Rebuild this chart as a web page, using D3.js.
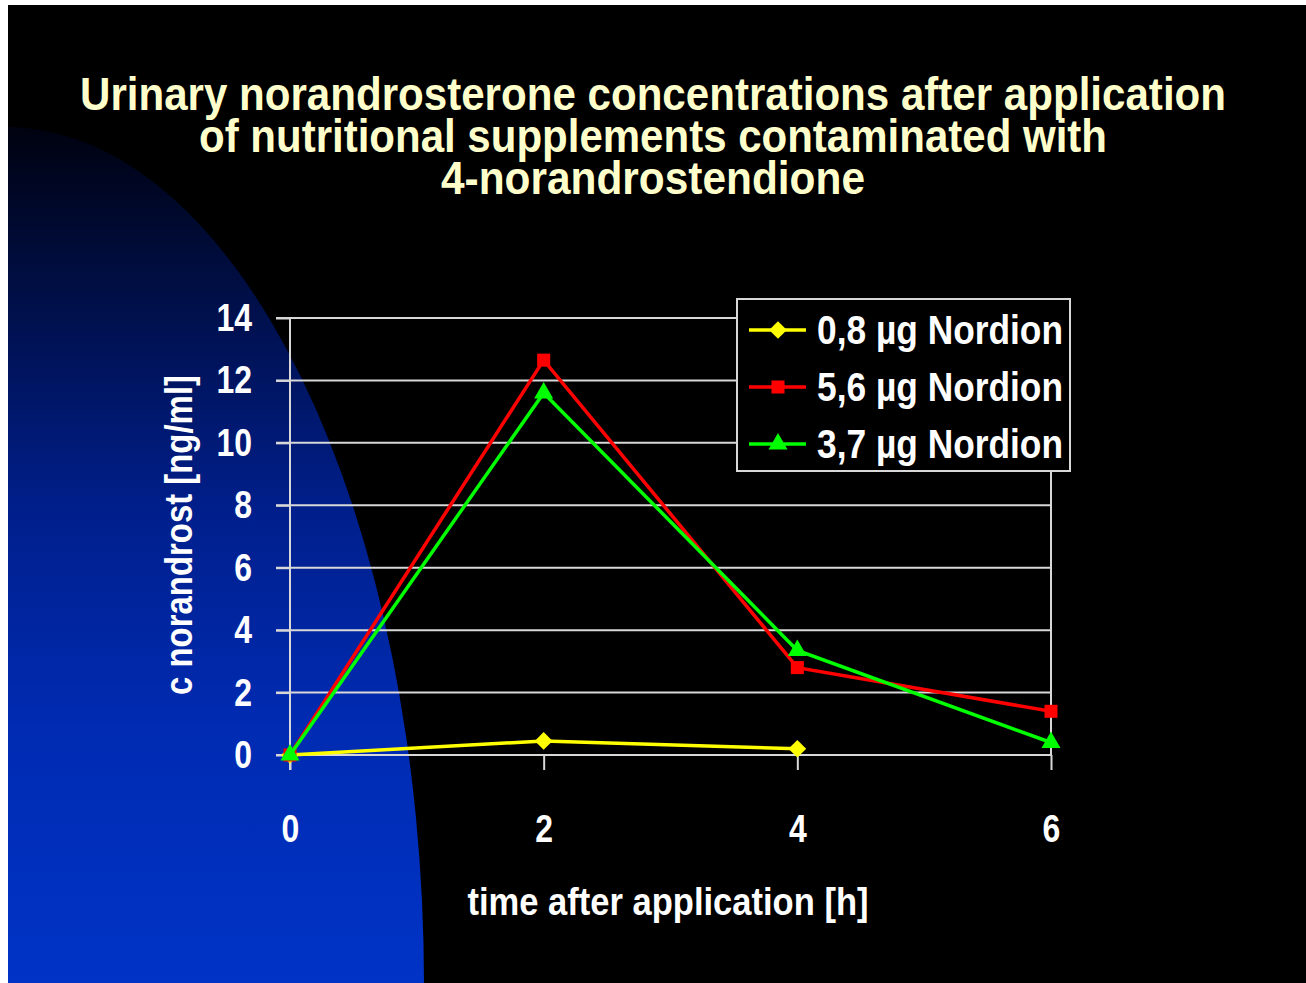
<!DOCTYPE html>
<html>
<head>
<meta charset="utf-8">
<script src="https://cdn.jsdelivr.net/npm/d3@7"></script>
<style>
  body { margin: 0; background: #fff; }
  svg { display: block; }
  text { font-family: "Liberation Sans Narrow", "Arial Narrow", "Liberation Sans", Arial, sans-serif; font-weight: bold; }
</style>
</head>
<body>
<div id="chart"></div>
<script>
// Data
const hours = [0, 2, 4, 6];
const dose08 = [0.0, 0.45, 0.2];        // 0,8 µg Nordion (no value at 6 h)
const dose56 = [0.0, 12.65, 2.8, 1.4];  // 5,6 µg Nordion
const dose37 = [0.0, 11.6, 3.35, 0.4];  // 3,7 µg Nordion
const yTicks = [0, 2, 4, 6, 8, 10, 12, 14];
const titleLines = [
  "Urinary norandrosterone concentrations after application",
  "of nutritional supplements contaminated with",
  "4-norandrostendione"
];

const series = [
  { name: "0,8 µg Nordion", values: dose08, color: "#ffff00", marker: "diamond" },
  { name: "5,6 µg Nordion", values: dose56, color: "#ff0000", marker: "square" },
  { name: "3,7 µg Nordion", values: dose37, color: "#00ff00", marker: "triangle" }
];

const W = 1306, H = 983;
const narrow = 0.82;   // the slide font is a condensed bold sans
const svg = d3.select("#chart").append("svg")
  .attr("width", W)
  .attr("height", H);

// slide background: white edge, black slide, blue quarter ellipse
svg.append("rect").attr("width", W).attr("height", H).attr("fill", "#fff");
svg.append("rect").attr("x", 8).attr("y", 5).attr("width", W - 8).attr("height", H - 5).attr("fill", "#000");

const defs = svg.append("defs");
const grad = defs.append("linearGradient").attr("id", "blue")
  .attr("gradientUnits", "userSpaceOnUse")
  .attr("x1", 0).attr("y1", 127).attr("x2", 0).attr("y2", 983);
grad.append("stop").attr("offset", "0%").attr("stop-color", "#000210");
grad.append("stop").attr("offset", "20%").attr("stop-color", "#000f48");
grad.append("stop").attr("offset", "45%").attr("stop-color", "#001f8c");
grad.append("stop").attr("offset", "70%").attr("stop-color", "#002bb2");
grad.append("stop").attr("offset", "100%").attr("stop-color", "#0033c6");
defs.append("clipPath").attr("id", "slide")
  .append("rect").attr("x", 8).attr("y", 5).attr("width", W - 8).attr("height", H - 5);

svg.append("ellipse")
  .attr("clip-path", "url(#slide)")
  .attr("cx", 6).attr("cy", 985)
  .attr("rx", 418).attr("ry", 858)
  .attr("fill", "url(#blue)");

// title
svg.append("g").selectAll("text")
  .data(titleLines)
  .enter()
  .append("text")
  .attr("x", 653)
  .attr("y", (d, i) => 110 + i * 42)
  .attr("text-anchor", "middle")
  .attr("fill", "#ffffcc")
  .style("font-size", "46px")
  .attr("textLength", (d, i) => [1146, 908, 424][i])
  .attr("lengthAdjust", "spacingAndGlyphs")
  .text(d => d);

// scales
const x = d3.scaleLinear().domain([0, 6]).range([290, 1051]);
const y = d3.scaleLinear().domain([0, 14]).range([755, 318]);
const gridColor = "#d8d8d8";

// grid lines
svg.append("g").selectAll("line")
  .data(yTicks)
  .enter()
  .append("line")
  .attr("x1", 276).attr("x2", x(6))
  .attr("y1", d => y(d)).attr("y2", d => y(d))
  .attr("stroke", gridColor).attr("stroke-width", 2);

// right border of plot
svg.append("line")
  .attr("x1", x(6)).attr("x2", x(6))
  .attr("y1", y(14)).attr("y2", y(0))
  .attr("stroke", gridColor).attr("stroke-width", 2);

// y axis
const yAxis = svg.append("g")
  .attr("transform", `translate(${x(0)},0)`)
  .call(d3.axisLeft(y).tickValues(yTicks).tickSize(14).tickPadding(24).tickFormat(d3.format("d")));
yAxis.select(".domain").attr("stroke", gridColor).attr("stroke-width", 2)
  .attr("d", `M0,${y(14)}V${y(0) + 15}`);
yAxis.selectAll(".tick line").attr("stroke", gridColor).attr("stroke-width", 2);
yAxis.selectAll(".tick text")
  .attr("fill", "#fff")
  .style("font-size", "39px")
  .attr("x", -38 / narrow)
  .attr("transform", `scale(${narrow},1)`);

// x axis
const xAxis = svg.append("g")
  .attr("transform", `translate(0,${y(0)})`)
  .call(d3.axisBottom(x).tickValues(hours).tickSize(15).tickPadding(44).tickFormat(d3.format("d")));
xAxis.select(".domain").remove();
xAxis.selectAll(".tick line").attr("stroke", gridColor).attr("stroke-width", 2);
xAxis.selectAll(".tick text")
  .attr("fill", "#fff")
  .style("font-size", "39px")
  .attr("transform", `scale(${narrow},1)`);

// axis titles
svg.append("text")
  .attr("transform", "translate(192,535) rotate(-90)")
  .attr("text-anchor", "middle")
  .attr("fill", "#fff")
  .style("font-size", "39px")
  .attr("textLength", 320)
  .attr("lengthAdjust", "spacingAndGlyphs")
  .text("c norandrost [ng/ml]");

svg.append("text")
  .attr("x", 668).attr("y", 915)
  .attr("text-anchor", "middle")
  .attr("fill", "#fff")
  .style("font-size", "39px")
  .attr("textLength", 401)
  .attr("lengthAdjust", "spacingAndGlyphs")
  .text("time after application [h]");

// marker shapes
const markerPath = {
  diamond: d3.symbol().type(d3.symbolDiamond2).size(200),
  square: d3.symbol().type(d3.symbolSquare).size(170),
  triangle: d3.symbol().type(d3.symbolTriangle2).size(260)
};

const line = d3.line()
  .x((d, i) => x(hours[i]))
  .y(d => y(d));

// series
series.forEach(s => {
  const g = svg.append("g");
  g.append("path")
    .datum(s.values)
    .attr("d", line)
    .attr("fill", "none")
    .attr("stroke", s.color)
    .attr("stroke-width", 3.5);
  g.selectAll("path.mk")
    .data(s.values)
    .enter()
    .append("path")
    .attr("class", "mk")
    .attr("transform", (d, i) => `translate(${x(hours[i])},${y(d)})`)
    .attr("d", markerPath[s.marker]())
    .attr("fill", s.color);
});

// legend
const legend = svg.append("g").attr("transform", "translate(737,299)");
legend.append("rect")
  .attr("width", 333).attr("height", 172)
  .attr("fill", "#000")
  .attr("stroke", gridColor).attr("stroke-width", 2);

const item = legend.selectAll(".item")
  .data(series)
  .enter()
  .append("g")
  .attr("class", "item")
  .attr("transform", (d, i) => `translate(0,${31 + i * 57})`);
item.append("line")
  .attr("x1", 12).attr("x2", 69)
  .attr("stroke", d => d.color).attr("stroke-width", 3.5);
item.append("path")
  .attr("transform", "translate(41,0)")
  .attr("d", d => markerPath[d.marker]())
  .attr("fill", d => d.color);
item.append("text")
  .attr("x", 80).attr("y", 14)
  .attr("fill", "#fff")
  .style("font-size", "40px")
  .attr("textLength", 246)
  .attr("lengthAdjust", "spacingAndGlyphs")
  .text(d => d.name);
</script>
</body>
</html>
